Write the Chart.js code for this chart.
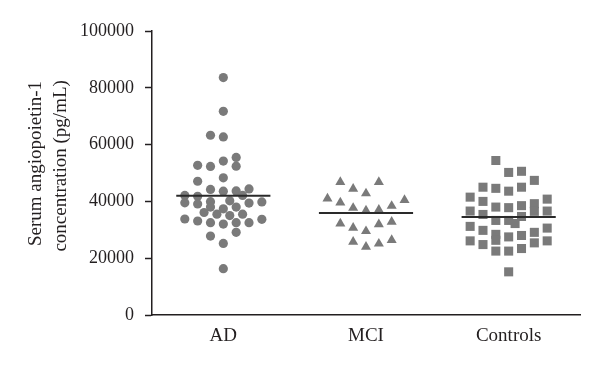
<!DOCTYPE html>
<html>
<head>
<meta charset="utf-8">
<script src="https://cdn.jsdelivr.net/npm/chart.js@4"></script>
<style>
  html, body { margin: 0; padding: 0; background: #fff; }
  #wrap { width: 600px; height: 366px; }
</style>
</head>
<body>
<div id="wrap"><canvas id="chart"></canvas></div>
<script>
// Groups and values (pg/mL)
const categories = ['AD', 'MCI', 'Controls'];

const adValues = [83600, 71700, 63300, 62700, 55500, 52700, 52300, 54200, 52400,
    47100, 48300, 44200, 43600, 43700, 44400, 42100, 41800, 42100,
    39500, 39100, 39900, 40200, 39400, 39800, 38000, 37400, 38000,
    36100, 35500, 35000, 35500, 33800, 33100, 32500, 32000, 32500, 32500, 33700,
    29100, 27800, 25200, 16300];
// column slot of each dot inside the scatter (-3 .. 3)
const adSlots = [0, 0, -1, 0, 1, -2, -1, 0, 1,
    -2, 0, -1, 0, 1, 2, -3, -2, 1.5,
    -3, -2, -1, 0.5, 2, 3, -1, 0, 1,
    -1.5, -0.5, 0.5, 1.5, -3, -2, -1, 0, 1, 2, 3,
    1, -1, 0, 0];

const mciValues = [46800, 46800, 44400, 42800, 41000, 39600, 40500, 37700, 36800, 37000,
    38400, 32200, 30700, 29500, 31900, 32800, 25800, 24000, 25100, 26400];
const mciSlots = [-2, 1, -1, 0, -3, -2, 3, -1, 0, 1,
    2, -2, -1, 0, 1, 2, -1, 0, 1, 2];

const controlValues = [54400, 50200, 50600, 47400, 45000, 44600, 43600, 45000,
    41500, 40000, 38000, 37800, 38500, 39200, 36500, 40800,
    36600, 35400, 34700, 36600, 33300, 33300, 32200,
    31200, 29800, 28400, 26300, 27500, 28000, 29100, 30600,
    26100, 24800, 25400, 26100, 22500, 22500, 23400, 15200];
const controlSlots = [-1, 0, 1, 2, -2, -1, 0, 1,
    -3, -2, -1, 0, 1, 2, 2, 3,
    -3, -2, 1, 3, -1, 0, 0.5,
    -3, -2, -1, -1, 0, 1, 2, 3,
    -3, -2, 2, 3, -1, 0, 1, 0];

const means = [42000, 35900, 34500];

const yTicks = [0, 20000, 40000, 60000, 80000, 100000];

// ---- styling ----
const ink = '#231f20';
const dotColor = '#7a7a7a';
const family = '"Liberation Serif", "DejaVu Serif", serif';
const slotWidth = 0.09;   // x units between scatter columns
const meanHalf = 0.33;    // half width of the mean bar

const toPoints = (values, slots, group) =>
    values.map((v, i) => ({ x: group + 1 + slots[i] * slotWidth, y: v }));

const meanSets = means.map((m, i) => ({
    type: 'line',
    data: [{ x: i + 1 - meanHalf, y: m }, { x: i + 1 + meanHalf, y: m }],
    borderColor: '#2a2a2a',
    borderWidth: 2,
    pointRadius: 0
}));

const groups = [
    { data: toPoints(adValues, adSlots, 0), pointStyle: 'circle', pointRadius: 4.6 },
    { data: toPoints(mciValues, mciSlots, 1), pointStyle: 'triangle', pointRadius: 5.8 },
    { data: toPoints(controlValues, controlSlots, 2), pointStyle: 'rect', pointRadius: 6.4 }
].map(g => ({
    type: 'scatter',
    ...g,
    backgroundColor: dotColor,
    borderColor: dotColor,
    borderWidth: 0,
    pointHoverRadius: g.pointRadius
}));

new Chart(document.getElementById('chart'), {
    data: { datasets: [...meanSets, ...groups] },
    options: {
        animation: false,
        responsive: true,
        maintainAspectRatio: false,
        layout: { padding: { top: 31, right: 20, left: 0, bottom: 0 } },
        plugins: { legend: { display: false }, tooltip: { enabled: false } },
        scales: {
            x: {
                type: 'linear',
                min: 0.5,
                max: 3.5,
                afterBuildTicks: s => { s.ticks = categories.map((_, i) => ({ value: i + 1 })); },
                ticks: {
                    callback: v => categories[v - 1] ?? '',
                    font: { family, size: 19 },
                    color: ink,
                    padding: 10,
                    autoSkip: false,
                    maxRotation: 0
                },
                grid: { drawOnChartArea: false, drawTicks: false },
                border: { color: ink, width: 1.5 },
                afterFit: s => { s.height = 51; }
            },
            y: {
                min: 0,
                max: 100000,
                afterBuildTicks: s => { s.ticks = yTicks.map(v => ({ value: v })); },
                ticks: {
                    callback: v => String(v),
                    font: { family, size: 18 },
                    color: ink,
                    padding: 11
                },
                grid: { drawOnChartArea: false, drawTicks: true, tickLength: 7, tickColor: ink, tickWidth: 1.5 },
                border: { color: ink, width: 1.5 },
                title: {
                    display: true,
                    // leading spaces nudge each line up a little, as in the figure
                    text: ['    Serum angiopoietin-1', '   concentration (pg/mL)'],
                    font: { family, size: 19, lineHeight: 1.3 },
                    color: ink,
                    padding: { top: 24, bottom: 0 }
                },
                afterFit: s => { s.width = 152; }
            }
        }
    }
});
</script>
</body>
</html>
